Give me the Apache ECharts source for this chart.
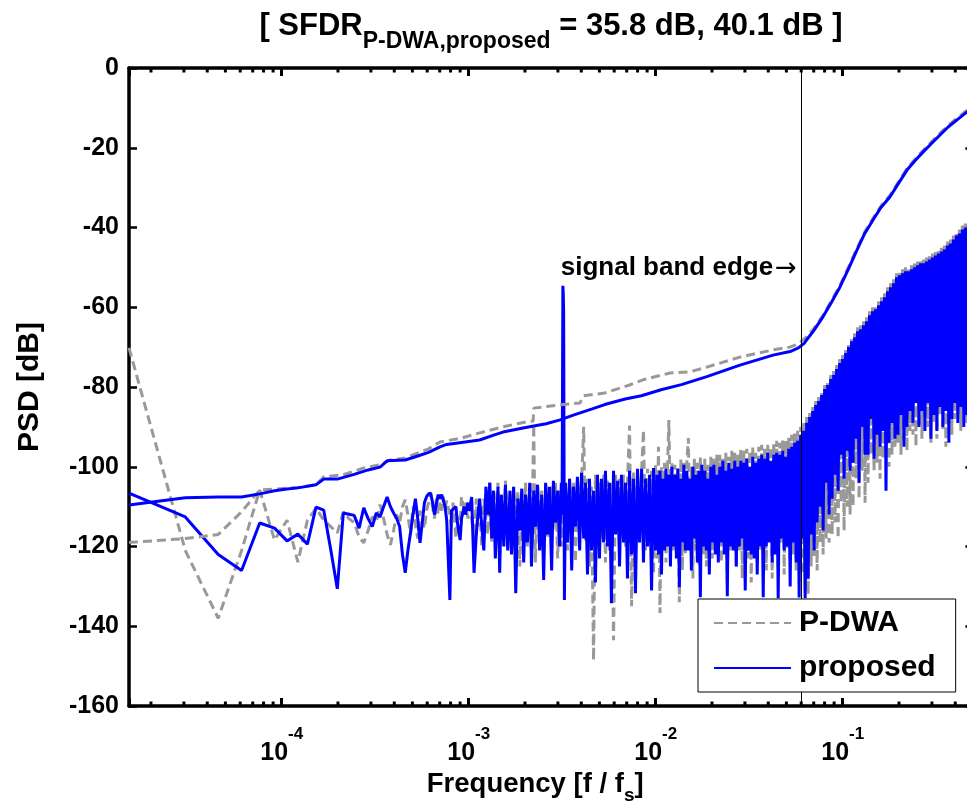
<!DOCTYPE html>
<html>
<head>
<meta charset="utf-8">
<script src="https://cdn.jsdelivr.net/npm/echarts@6/dist/echarts.min.js"></script>
<style>
html, body { margin: 0; padding: 0; background: #fff; }
#chart { width: 967px; height: 805px; }
</style>
</head>
<body>
<div id="chart"></div>
<script>
// FFT length (bins are k / fftLength, normalised to fs) and the signal band edge
const fftLength = 65536;
const bandEdge = 0.0636;

// FFT bin indices of the plotted PSD points
const psdBins = [
  1,2,3,4,5,6,7,8,9,10,
  11,12,13,14,15,16,17,18,19,20,
  21,22,23,24,25,26,27,28,29,30,
  31,32,33,34,35,36,37,38,39,40,
  41,42,43,44,45,46,47,48,49,50,
  52,53,54,56,57,59,60,62,63,65,
  66,68,70,72,73,75,77,79,81,83,
  85,87,89,91,94,96,98,101,103,106,
  109,111,114,117,120,123,126,129,132,135,
  139,142,146,149,153,157,161,165,169,173,
  177,182,186,191,196,201,205,207,208,209,
  210,211,213,216,221,227,233,238,244,250,
  257,263,270,276,283,290,297,305,312,320,
  328,336,345,353,362,371,380,390,400,410,
  420,430,441,452,463,475,487,499,511,524,
  537,551,564,578,593,608,623,638,654,666,
  678,691,704,717,730,744,757,771,786,800,
  815,830,846,861,877,894,910,927,945,962,
  980,998,1017,1036,1055,1075,1095,1115,1136,1157,
  1179,1200,1223,1245,1269,1292,1316,1341,1366,1391,
  1417,1443,1470,1498,1525,1554,1583,1612,1642,1673,
  1704,1735,1768,1801,1834,1868,1903,1938,1974,2011,
  2049,2087,2125,2165,2205,2246,2288,2331,2374,2418,
  2463,2509,2556,2603,2652,2701,2751,2803,2855,2908,
  2962,3017,3073,3130,3189,3248,3308,3370,3433,3497,
  3562,3628,3695,3764,3834,3906,3978,4052,4128,4205,
  4283,4363,4444,4527,4611,4697,4784,4873,4964,5056,
  5151,5246,5344,5443,5545,5648,5753,5860,5969,6080,
  6193,6309,6426,6546,6667,6791,6918,7047,7178,7311,
  7447,7586,7727,7871,8017,8166,8318,8473,8631,8791,
  8955,9121,9291,9464,9640,9819,10002,10188,10377,10570,
  10767,10967,11171,11379,11591,11806,12026,12250,12478,12710,
  12946,13187,13432,13682,13936,14195,14459,14728,15002,15281,
  15565,15855,16150,16450,16756,17068,17385,17709,18038,18373,
  18715,19063,19418,19779,20147,20521,20903,21292,21688,22091,
  22502,22920,23347,23781,24223,24674,25133,25600,26076,26561,
  27055,27558,28071,28593,29125,29666,30217,30780,31540,32768
];

// PSD of the proposed modulator [dB], one value per entry of psdBins
const proposedPsd = [
  -106.6,-112.6,-122,-126,-114.1,-115.4,-118.6,-116.9,-119.4,-110.1,
  -110.9,-120.9,-130.6,-111.6,-111.9,-112.2,-115.4,-110.3,-113,-115,
  -111.6,-112.6,-110,-107.6,-110,-111.6,-113,-115,-122,-126.6,
  -121,-116.6,-112,-108,-113,-119.1,-114,-109,-107.5,-106.8,
  -106.6,-109,-112,-109.5,-107,-108,-107,-107.2,-110,-113.4,
  -133.4,-111,-110.9,-110,-114,-118.4,-113,-110,-112,-109,
  -111,-107.6,-126.6,-117,-113.4,-108,-115,-121,-105,-112,
  -104,-118,-106,-123,-105,-126.6,-107,-120,-104.5,-121,
  -106,-122,-105,-131.7,-108,-116,-105.5,-124,-107,-119,
  -104,-125,-106,-115,-104.5,-121,-107,-128.4,-104,-117,
  -105,-126,-103.5,-114,-106,-120,-104,-112,-82,-54.6,
  -56.5,-61,-133.4,-104,-119,-103,-126,-105,-115,-102.5,
  -121,-101.5,-118,-104,-127,-103,-121,-106,-129,-102,
  -123,-103,-119,-101,-120,-104,-134.2,-101,-117,-103.5,
  -125,-102,-119,-104,-128,-101,-122,-103,-131.7,-100.5,
  -119,-100.5,-124,-103,-120,-102,-131,-100.3,-121,-102,
  -122,-101,-127,-103,-121,-100.5,-120,-102,-125,-100,
  -120,-102,-123,-100.5,-130.2,-103,-119,-99.5,-121,-101,
  -121,-103,-126,-100,-118,-102,-124,-101,-132.7,-99.5,
  -120,-101,-121,-103,-127,-100,-119,-99.5,-122,-102,
  -124,-100,-119,-98.5,-122,-101,-132.5,-99,-120,-100.5,
  -121,-98.5,-125,-100,-120,-98.5,-118,-99,-131,-98,
  -121,-100,-122,-97.5,-123,-99,-127,-98,-120,-97,
  -132.7,-98,-120,-96.5,-119,-98.5,-124,-97,-122,-96.5,
  -133,-97,-118,-96,-121,-97.5,-120,-95.5,-130,-95,
  -119,-94,-124,-93.5,-132.8,-92,-118,-91,-133,-89,
  -128,-87.5,-117,-86,-121,-84.5,-114,-83.5,-110,-82,
  -116,-80.5,-104,-79.5,-112,-78,-108,-77,-102,-75.5,
  -106,-74,-97,-73,-103,-71.5,-96,-70,-101,-68.5,
  -99,-67.5,-93,-66,-104,-65.5,-90,-64.5,-97,-63.5,
  -97,-62,-88,-61,-98,-60.5,-92,-59.5,-95,-58.5,
  -91,-57.5,-106,-56,-94,-55,-89,-54,-93,-52.5,
  -92,-52,-87,-51.5,-95,-51,-90,-51,-86,-50.5,
  -89,-50,-84,-49.5,-90,-49,-86,-49,-91,-48.5,
  -84,-48,-93,-47.5,-87,-47,-91,-46.5,-85,-46,
  -90,-45.5,-86,-44.5,-94,-44,-88,-43,-84,-42,
  -89,-41.5,-85,-40.5,-90,-40,-87,-39.5,-84,-38.5
];

// PSD of the P-DWA modulator [dB], one value per entry of psdBins
const pdwaPsd = [
  -70.2,-121,-138,-121,-105.8,-118.4,-113.4,-123.9,-113.4,-110.4,
  -113.4,-115,-116.6,-111.3,-113,-114,-117.6,-119.1,-116,-112.5,
  -114,-109.5,-113,-117,-119.6,-116,-112,-114,-110,-108.3,
  -112,-117,-110,-114.5,-118,-111,-113,-115.5,-111,-109,
  -106.6,-110,-113,-108,-112,-109,-111,-107.5,-110.5,-108.5,
  -112,-115,-109,-118,-112.5,-114,-107.5,-111,-109,-113,
  -110,-113,-118,-108,-115,-110,-120,-108,-113.5,-117,
  -104,-119,-106.5,-114,-104,-122,-108,-116,-103.5,-112,
  -107,-121,-105,-118,-106,-125,-108,-113,-104,-120,
  -106,-121,-89.5,-124,-105,-115,-106,-122,-104.5,-118,
  -118,-105,-116,-104,-123,-106,-120,-104,-114,-106,
  -112,-104,-117,-105.5,-121,-103,-115,-104,-124,-103,
  -110,-104,-90,-119,-103,-125,-105,-148.6,-102,-111,
  -104,-118,-102,-124,-103.5,-121,-104,-143.5,-102,-115,
  -103,-117,-102,-120,-104,-89.7,-135,-101,-118,-102.5,
  -119,-101,-90.8,-121,-100.5,-115,-101,-127,-99.5,-123,
  -95,-136.7,-100,-118,-99,-124,-101,-88.3,-112,-99,
  -121,-99.5,-118,-100,-134,-98,-126,-99,-122,-98.5,
  -92.8,-119,-100,-128,-98,-121,-99,-125,-97.5,-118,
  -122,-98,-125,-99.5,-119,-97.5,-123,-98,-116,-97,
  -120,-97,-124,-98,-118,-96.5,-129,-97.5,-121,-96,
  -118,-96.5,-125,-97,-121,-95.5,-128,-96,-119,-95.5,
  -123,-96,-129,-95,-119,-96.5,-124,-95,-121,-94.5,
  -120,-95.5,-126,-94.5,-117,-95,-128,-94,-121,-93.5,
  -125,-94,-119,-93,-127,-93.5,-121,-92.5,-123,-92,
  -122,-91.5,-126,-91,-120,-90,-127,-89,-131,-87.5,
  -132,-86.5,-125,-85,-123,-83.5,-126,-82.5,-119,-81,
  -122,-79.5,-118,-78.5,-119,-77,-117,-76,-114,-74.5,
  -118,-73,-109,-72,-116,-70.5,-110,-69,-112,-67.5,
  -110,-66.5,-103,-65,-108,-64.5,-101,-63.5,-109,-62.5,
  -104,-61,-97,-60,-101,-59.5,-99,-58.5,-103,-57.5,
  -98,-56.5,-96,-55,-100,-54,-97,-53,-95,-51.5,
  -94,-51,-97,-50.5,-93,-50,-96,-50,-91,-49.5,
  -92,-49,-95,-48.5,-90,-48,-93,-48,-88,-47.5,
  -90,-47,-94,-46.5,-89,-46,-93,-45.5,-87,-45,
  -91,-44.5,-95,-43.5,-89,-43,-92,-42,-88,-41,
  -87,-40.5,-91,-39.5,-85,-39,-89,-38.5,-86,-37.5
];

// Smoothed noise level of the proposed modulator [dB]
const proposedTrendBins = [
  1,2,3,4,5,6,7,8,10,11,
  13,16,19,22,24,30,35,40,46,50,
  60,75,90,100,130,170,200,240,300,350,
  450,550,700,900,1230,1850,2780,3430,3800,4090,
  4170,4600,5140,5700,6340,7000,7820,8600,9520,10500,
  11740,13000,14470,16000,17620,19500,21720,24000,26780,30290,
  32768
];
const proposedTrend = [
  -109.6,-107.8,-107.6,-107.6,-106.8,-106,-105.6,-105.3,-104.5,-103.1,
  -103.1,-101.9,-100.8,-100.1,-98.5,-98.3,-97.3,-96.4,-95,-94.4,
  -93.9,-93.3,-92,-91.3,-90.2,-89.2,-88.3,-87,-85.5,-84.4,
  -83,-82.2,-80.7,-79.4,-77.4,-74.5,-72,-71.1,-70.2,-69,
  -68.4,-65.8,-62.4,-58.8,-54.9,-50.6,-45.6,-41.5,-38.1,-35,
  -32.3,-29,-25.6,-23.2,-21.1,-19,-16.8,-14.8,-13,-11,
  -10.2
];

// Smoothed noise level of the P-DWA modulator [dB]
const pdwaTrendBins = [
  1,2,3,4,5,6,8,10,11,14,
  18,22,25,30,40,46,60,75,100,134,
  145,146,200,258,270,350,475,560,780,1000,
  1230,1850,2780,3410,3800,4200,4600,5140,5700,6340,
  7000,7820,8600,9520,10500,11740,13000,14470,16000,17620,
  19500,21720,24000,26780,30290,32768
];
const pdwaTrend = [
  -119,-118,-117,-111.3,-105.8,-105.6,-105.2,-104.5,-102.5,-102,
  -100.3,-99.5,-98.3,-97.8,-95.5,-93.8,-92.8,-91.5,-90,-88.7,
  -88.5,-85.3,-84.5,-84,-82.2,-81.5,-79.5,-78.2,-76.5,-76.2,
  -75,-72.5,-70.7,-70,-69.2,-67.4,-65.3,-62,-58.4,-54.5,
  -50.2,-45.2,-41.1,-37.7,-34.6,-31.9,-28.6,-25.2,-22.8,-20.7,
  -18.6,-16.4,-14.4,-12.6,-10.6,-9.8
];

// Axis ranges
const freqMin = 1 / fftLength;
const freqMax = 0.5;
const dbMin = -160;
const dbMax = 0;
const dbStep = 20;

// Log-axis minor ticks: mantissas 2..9 in every decade
const minorMantissas = [2, 3, 4, 5, 6, 7, 8, 9];
const decades = [1e-5, 1e-4, 1e-3, 1e-2, 1e-1];

const FONT = 'Liberation Sans, Arial, Helvetica, sans-serif';
const GRAY = '#999999';
const BLUE = '#0000ff';
const LINE_W = 3;

function toPairs(bins, values) {
  return bins.map((k, i) => [k / fftLength, values[i]]);
}

const minorTicks = [];
decades.forEach(d => minorMantissas.forEach(m => {
  const v = m * d;
  if (v > freqMin && v < freqMax) minorTicks.push([v, dbMin]);
}));

const chart = echarts.init(document.getElementById('chart'), null, { renderer: 'canvas' });

const axisLineStyle = { color: '#000', width: 3.5 };

chart.setOption({
  animation: false,
  backgroundColor: '#fff',
  title: {
    text: '{m|[ SFDR}{s|P-DWA,proposed}{m| = 35.8 dB, 40.1 dB ]}',
    left: 551,
    top: 0,
    padding: 0,
    textAlign: 'center',
    textStyle: {
      rich: {
        m: { fontFamily: FONT, fontSize: 31, fontWeight: 'bold', color: '#000', lineHeight: 36, verticalAlign: 'middle' },
        s: { fontFamily: FONT, fontSize: 23, fontWeight: 'bold', color: '#000', padding: [30, 0, 0, 0], verticalAlign: 'middle' }
      }
    }
  },
  legend: {
    data: ['P-DWA', 'proposed'],
    orient: 'vertical',
    left: 698,
    top: 599,
    padding: [7, 20, 7, 15],
    itemGap: 11,
    itemWidth: 77,
    itemHeight: 4,
    itemStyle: { opacity: 0 },
    backgroundColor: '#fff',
    borderColor: '#000',
    borderWidth: 1,
    borderRadius: 0,
    selectedMode: false,
    z: 10,
    textStyle: { fontFamily: FONT, fontSize: 30, fontWeight: 'bold', color: '#000', lineHeight: 34, padding: [0, 0, 0, 3] }
  },
  // the plot box runs slightly past the right edge of the canvas, up to f = 0.5
  grid: { left: 129, top: 68, width: 844.4, height: 638, containLabel: false, outerBoundsMode: 'none' },
  xAxis: [
    {
      type: 'log',
      logBase: 10,
      min: freqMin,
      max: freqMax,
      position: 'bottom',
      name: '{n|Frequency [f / f}{s|s}{n|]}',
      nameLocation: 'middle',
      nameGap: 55,
      nameTextStyle: {
        padding: [0, 32, 0, 0],
        rich: {
          n: { fontFamily: FONT, fontSize: 27.5, fontWeight: 'bold', color: '#000', verticalAlign: 'middle' },
          s: { fontFamily: FONT, fontSize: 19, fontWeight: 'bold', color: '#000', padding: [22, 0, 0, 0], verticalAlign: 'middle' }
        }
      },
      axisLine: { show: true, onZero: false, lineStyle: axisLineStyle },
      axisTick: { show: true, inside: true, length: 8, lineStyle: { color: '#000', width: 3 } },
      axisLabel: {
        margin: 20,
        formatter: v => {
          const lg = Math.log10(v);
          const e = Math.round(lg);
          if (Math.abs(lg - e) > 1e-6) return '';
          return '{b|10}{s|' + e + '}';
        },
        rich: {
          b: { fontFamily: FONT, fontSize: 25, fontWeight: 'bold', color: '#000', verticalAlign: 'middle' },
          s: { fontFamily: FONT, fontSize: 17, fontWeight: 'bold', color: '#000', padding: [0, 0, 37, 0], verticalAlign: 'middle' }
        }
      },
      splitLine: { show: false },
      minorTick: { show: false }
    },
    {
      type: 'log',
      logBase: 10,
      min: freqMin,
      max: freqMax,
      position: 'top',
      axisLine: { show: true, onZero: false, lineStyle: axisLineStyle },
      axisTick: { show: true, inside: true, length: 8, lineStyle: { color: '#000', width: 3 } },
      axisLabel: { show: false },
      splitLine: { show: false }
    }
  ],
  yAxis: [
    {
      type: 'value',
      min: dbMin,
      max: dbMax,
      interval: dbStep,
      position: 'left',
      name: 'PSD [dB]',
      nameLocation: 'middle',
      nameGap: 84,
      nameTextStyle: { fontFamily: FONT, fontSize: 30, fontWeight: 'bold', color: '#000' },
      axisLine: { show: true, onZero: false, lineStyle: axisLineStyle },
      axisTick: { show: true, inside: true, length: 8, lineStyle: { color: '#000', width: 2.5 } },
      axisLabel: { fontFamily: FONT, fontSize: 25, fontWeight: 'bold', color: '#000', margin: 10 },
      splitLine: { show: false }
    },
    {
      type: 'value',
      min: dbMin,
      max: dbMax,
      interval: dbStep,
      position: 'right',
      axisLine: { show: true, onZero: false, lineStyle: axisLineStyle },
      axisTick: { show: true, inside: true, length: 8, lineStyle: { color: '#000', width: 2.5 } },
      axisLabel: { show: false },
      splitLine: { show: false }
    }
  ],
  series: [
    {
      name: 'P-DWA',
      type: 'line',
      data: toPairs(psdBins, pdwaPsd),
      showSymbol: false,
      symbol: 'none',
      silent: true,
      lineStyle: { color: GRAY, width: LINE_W, type: [9, 5] },
      itemStyle: { color: GRAY }
    },
    {
      name: 'proposed',
      type: 'line',
      data: toPairs(psdBins, proposedPsd),
      showSymbol: false,
      symbol: 'none',
      silent: true,
      lineStyle: { color: BLUE, width: LINE_W },
      itemStyle: { color: BLUE }
    },
    {
      name: 'P-DWA',
      type: 'line',
      data: toPairs(pdwaTrendBins, pdwaTrend),
      showSymbol: false,
      symbol: 'none',
      silent: true,
      lineStyle: { color: GRAY, width: LINE_W, type: [9, 5] },
      itemStyle: { color: GRAY }
    },
    {
      name: 'proposed',
      type: 'line',
      data: toPairs(proposedTrendBins, proposedTrend),
      showSymbol: false,
      symbol: 'none',
      silent: true,
      lineStyle: { color: BLUE, width: LINE_W },
      itemStyle: { color: BLUE },
      markLine: {
        silent: true,
        symbol: ['none', 'none'],
        label: { show: false },
        lineStyle: { color: '#000', width: 1, type: 'solid' },
        data: [{ xAxis: bandEdge }]
      },
      markPoint: {
        silent: true,
        symbol: 'circle',
        symbolSize: 0.1,
        itemStyle: { color: 'rgba(0,0,0,0)' },
        label: {
          show: true,
          position: 'left',
          distance: 9,
          formatter: '{t|signal band edge}{a|\u2192}',
          rich: {
            t: { fontFamily: FONT, fontSize: 26, fontWeight: 'bold', color: '#000', verticalAlign: 'middle' },
            a: { fontFamily: 'DejaVu Sans, sans-serif', fontSize: 26, color: '#000', padding: [4, 0, 0, 2], verticalAlign: 'middle' }
          }
        },
        data: [{ coord: [bandEdge, -50] }]
      }
    },
    {
      name: 'minor ticks',
      type: 'custom',
      silent: true,
      clip: false,
      data: minorTicks,
      renderItem: (params, api) => {
        const v = api.value(0);
        const bot = api.coord([v, dbMin]);
        const top = api.coord([v, dbMax]);
        const len = 4.5;
        const style = { stroke: '#000', lineWidth: 3 };
        return {
          type: 'group',
          children: [
            { type: 'line', shape: { x1: bot[0], y1: bot[1], x2: bot[0], y2: bot[1] - len }, style },
            { type: 'line', shape: { x1: top[0], y1: top[1], x2: top[0], y2: top[1] + len }, style }
          ]
        };
      }
    }
  ]
});
</script>
</body>
</html>
